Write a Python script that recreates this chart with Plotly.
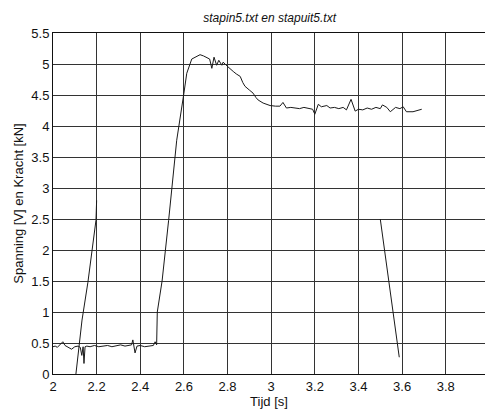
import plotly.graph_objects as go

# Main signal (baseline, rise, plateau)
t_main = [2.0, 2.01, 2.02, 2.03, 2.045, 2.055, 2.07, 2.085, 2.1, 2.115, 2.125, 2.132, 2.138, 2.142, 2.147,
          2.155, 2.17, 2.19, 2.21, 2.23, 2.25, 2.27, 2.29, 2.31, 2.33, 2.35, 2.36, 2.366, 2.371, 2.376, 2.385,
          2.4, 2.42, 2.44, 2.46, 2.468, 2.475, 2.478, 2.5, 2.53, 2.545, 2.567, 2.6, 2.613, 2.636, 2.655, 2.674,
          2.69, 2.705, 2.718, 2.728, 2.738, 2.75, 2.76, 2.774, 2.78, 2.797, 2.812, 2.826, 2.84, 2.858, 2.87,
          2.88, 2.9, 2.917, 2.93, 2.94, 2.963, 2.98, 2.995, 3.02, 3.04, 3.054, 3.07, 3.09, 3.11, 3.13, 3.15,
          3.17, 3.19, 3.2, 3.216, 3.23, 3.255, 3.27, 3.29, 3.31, 3.33, 3.345, 3.366, 3.385, 3.4, 3.42, 3.44,
          3.46, 3.48, 3.5, 3.51, 3.53, 3.546, 3.57, 3.59, 3.605, 3.62, 3.65, 3.67, 3.69]
v_main = [0.44, 0.45, 0.43, 0.46, 0.52, 0.46, 0.43, 0.40, 0.44, 0.45, 0.43, 0.30, 0.44, 0.17, 0.44,
          0.45, 0.44, 0.46, 0.44, 0.45, 0.46, 0.44, 0.45, 0.47, 0.45, 0.46, 0.47, 0.55, 0.44, 0.34, 0.45,
          0.46, 0.44, 0.45, 0.46, 0.52, 0.47, 1.0, 1.5, 2.48, 2.97, 3.77, 4.53, 4.85, 5.08, 5.12, 5.15,
          5.13, 5.11, 5.08, 4.93, 5.11, 4.98, 5.06, 4.98, 5.03, 4.97, 4.93, 4.88, 4.84, 4.8, 4.7,
          4.64, 4.58, 4.53, 4.46, 4.42, 4.37, 4.35, 4.33, 4.32, 4.32, 4.38, 4.29, 4.3, 4.29, 4.28, 4.3,
          4.28, 4.27, 4.19, 4.35, 4.31, 4.33, 4.29, 4.3, 4.28, 4.3, 4.26, 4.43, 4.24, 4.27, 4.26, 4.29,
          4.27, 4.3, 4.28, 4.34, 4.3, 4.23, 4.3, 4.28, 4.31, 4.23, 4.23, 4.25, 4.27]

# Second rising segment
t_rise = [2.105, 2.133, 2.16, 2.18, 2.197, 2.2]
v_rise = [0.0, 0.87, 1.48, 2.0, 2.48, 2.8]

# Falling segment
t_fall = [3.5, 3.587]
v_fall = [2.5, 0.27]

x_ticks = [2, 2.2, 2.4, 2.6, 2.8, 3, 3.2, 3.4, 3.6, 3.8]
x_labels = ["2", "2.2", "2.4", "2.6", "2.8", "3", "3.2", "3.4", "3.6", "3.8"]
y_ticks = [0, 0.5, 1, 1.5, 2, 2.5, 3, 3.5, 4, 4.5, 5, 5.5]
y_labels = ["0", "0.5", "1", "1.5", "2", "2.5", "3", "3.5", "4", "4.5", "5", "5.5"]

line_style = dict(color="#1a1a1a", width=1)
fig = go.Figure()
for xs, ys in [(t_main, v_main), (t_rise, v_rise), (t_fall, v_fall)]:
    fig.add_trace(go.Scatter(x=xs, y=ys, mode="lines", line=line_style, showlegend=False, hoverinfo="skip"))

font = dict(family="Liberation Sans, Arial, sans-serif", size=13, color="#111111")
fig.update_layout(
    width=485, height=410,
    margin=dict(l=53, r=0, t=33, b=36),
    paper_bgcolor="white", plot_bgcolor="white",
    font=font,
    title=dict(text="<i>stapin5.txt en stapuit5.txt</i>", x=0.556, xanchor="center",
               y=1 - 18 / 410, yanchor="middle", font=dict(size=12, family=font["family"], color="#111")),
)
fig.update_xaxes(range=[2, 3.98], tickvals=x_ticks, ticktext=x_labels,
                 showgrid=True, gridcolor="#333333", gridwidth=1,
                 showline=True, linecolor="#111111", linewidth=1, mirror=True,
                 ticks="", zeroline=False, tickfont=dict(size=13),
                 title=dict(text="Tijd [s]", standoff=3, font=dict(size=13)))
fig.update_yaxes(range=[0, 5.5], tickvals=y_ticks, ticktext=y_labels,
                 showgrid=True, gridcolor="#333333", gridwidth=1,
                 showline=True, linecolor="#111111", linewidth=1, mirror=False,
                 ticks="", zeroline=False, tickfont=dict(size=13),
                 title=dict(text="Spanning [V] en Kracht [kN]", standoff=4, font=dict(size=13)))

fig.write_html("out.html")
